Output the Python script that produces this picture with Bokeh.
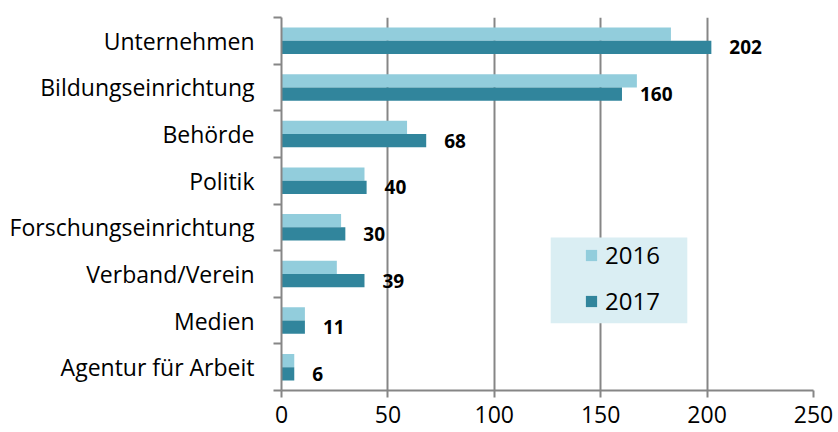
import numpy as np
from bokeh.plotting import figure
from bokeh.models import (Range1d, FixedTicker, BoxAnnotation, Legend, LegendItem,
                          ColumnDataSource)
from bokeh.core.properties import value
from bokeh.embed import file_html
from bokeh.resources import INLINE

categories = ["Unternehmen", "Bildungseinrichtung", "Behörde", "Politik",
              "Forschungseinrichtung", "Verband/Verein", "Medien", "Agentur für Arbeit"]
values_2016 = [183, 167, 59, 39, 28, 26, 11, 6]
values_2017 = [202, 160, 68, 40, 30, 39, 11, 6]
series_names = ["2016", "2017"]
x_ticks = [0, 50, 100, 150, 200, 250]

COL16 = "#92CDDC"
COL17 = "#31859C"
GRAY = "#868686"
FONT = "Open Sans"

n = len(categories)
pos = np.arange(n) + 0.5
bar_h = 0.285
off = 0.1425

src = ColumnDataSource(dict(
    y16=pos - off, y17=pos + off,
    v16=values_2016, v17=values_2017,
    lab=[str(v) for v in values_2017],
))

p = figure(width=838, height=432, output_backend="svg", toolbar_location=None,
           x_range=Range1d(0, 250), y_range=Range1d(n, 0),
           min_border_left=281, min_border_right=25, min_border_top=17,
           min_border_bottom=42)
p.outline_line_color = None
p.background_fill_color = "white"
p.border_fill_color = "white"

r16 = p.hbar(y="y16", right="v16", left=0, height=bar_h, source=src,
             fill_color=COL16, line_color=None)
r17 = p.hbar(y="y17", right="v17", left=0, height=bar_h, source=src,
             fill_color=COL17, line_color=None)

p.text(x="v17", y="y17", text="lab", source=src, x_offset=18,
       text_baseline="middle", text_align="left",
       text_font=value(FONT), text_font_style="bold", text_font_size="19px",
       text_color="black")

# x axis
p.xaxis.ticker = FixedTicker(ticks=x_ticks)
p.xaxis.axis_line_color = GRAY
p.xaxis.axis_line_width = 2
p.xaxis.major_tick_line_color = GRAY
p.xaxis.major_tick_line_width = 2
p.xaxis.major_tick_out = 7
p.xaxis.major_tick_in = 0
p.xaxis.minor_tick_line_color = None
p.xaxis.major_label_text_font = FONT
p.xaxis.major_label_text_font_size = "23px"
p.xaxis.major_label_text_color = "black"
p.xaxis.major_label_standoff = 8

# y axis: labels at centres, ticks at category boundaries
p.yaxis.ticker = FixedTicker(ticks=list(pos), minor_ticks=list(np.arange(n + 1)))
p.yaxis.major_label_overrides = {float(v): c for v, c in zip(pos, categories)}
p.yaxis.axis_line_color = GRAY
p.yaxis.axis_line_width = 2
p.yaxis.major_tick_line_color = None
p.yaxis.major_tick_out = 0
p.yaxis.major_tick_in = 0
p.yaxis.minor_tick_line_color = GRAY
p.yaxis.minor_tick_line_width = 2
p.yaxis.minor_tick_out = 8
p.yaxis.minor_tick_in = 0
p.yaxis.major_label_text_font = FONT
p.yaxis.major_label_text_font_size = "23px"
p.yaxis.major_label_text_color = "black"
p.yaxis.major_label_standoff = 19

p.xgrid.ticker = FixedTicker(ticks=x_ticks)
p.xgrid.grid_line_color = GRAY
p.xgrid.grid_line_width = 2
p.ygrid.grid_line_color = None

# legend background box
p.add_layout(BoxAnnotation(left=126.5, right=190.7, top=4.72, bottom=6.56,
                           fill_color="#DAEEF3", fill_alpha=1.0, line_color=None))

legend = Legend(items=[LegendItem(label=series_names[0], renderers=[r16]),
                       LegendItem(label=series_names[1], renderers=[r17])],
                location=(303, 73), orientation="vertical",
                background_fill_alpha=0, border_line_color=None,
                padding=0, margin=0, spacing=13,
                glyph_width=14, glyph_height=14, label_height=30,
                label_standoff=7,
                label_text_font=FONT, label_text_font_size="24px",
                label_text_color="black", label_text_baseline="middle")
p.add_layout(legend)

open("out.html", "w").write(file_html(p, INLINE))
